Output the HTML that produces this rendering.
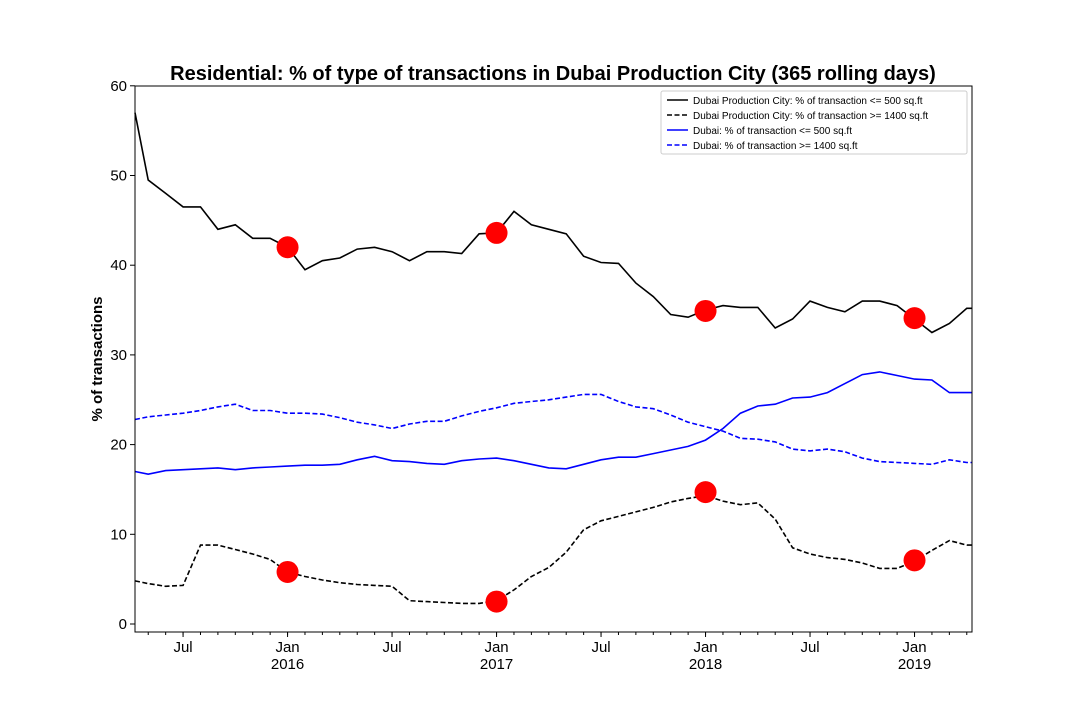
<!DOCTYPE html>
<html><head><meta charset="utf-8"><style>
body{margin:0;background:#fff;}
svg text{font-family:"Liberation Sans","DejaVu Sans",sans-serif;}
</style></head><body>
<svg id="chart" width="1080" height="720" xmlns="http://www.w3.org/2000/svg">
<rect width="1080" height="720" fill="#fff"/>
<text x="553" y="80" text-anchor="middle" font-size="20" font-weight="bold">Residential: % of type of transactions in Dubai Production City (365 rolling days)</text>
<text transform="translate(102,359) rotate(-90)" text-anchor="middle" font-size="15" font-weight="bold">% of transactions</text>
<g id="grid"></g>
<g id="series"></g>
<g id="markers"></g>
<rect x="135" y="86" width="837" height="546" fill="none" stroke="#000" stroke-width="1"/>
<g id="axes"></g>
<g>
<rect x="661" y="91" width="306" height="63" fill="#fff" stroke="#ccc" rx="2"/>
<line x1="667" y1="100" x2="688" y2="100" stroke="#000" stroke-width="1.5"/>
<text x="693" y="104" font-size="10">Dubai Production City: % of transaction &lt;= 500 sq.ft</text>
<line x1="667" y1="115" x2="688" y2="115" stroke="#000" stroke-width="1.5" stroke-dasharray="5,2.5"/>
<text x="693" y="119" font-size="10">Dubai Production City: % of transaction &gt;= 1400 sq.ft</text>
<line x1="667" y1="130" x2="688" y2="130" stroke="#00f" stroke-width="1.5"/>
<text x="693" y="134" font-size="10">Dubai: % of transaction &lt;= 500 sq.ft</text>
<line x1="667" y1="145" x2="688" y2="145" stroke="#00f" stroke-width="1.5" stroke-dasharray="5,2.5"/>
<text x="693" y="149" font-size="10">Dubai: % of transaction &gt;= 1400 sq.ft</text>
</g>
</svg>
<script>
// month index 0 = Apr 2015
const startMonth = 2015 + 3/12;
const dpcSmall = [57,49.5,48,46.5,46.5,44,44.5,43,43,42,39.5,40.5,40.8,41.8,42,41.5,40.5,41.5,41.5,41.3,43.5,43.6,46,44.5,44,43.5,41,40.3,40.2,38,36.5,34.5,34.2,35,35.5,35.3,35.3,33,34,36,35.3,34.8,36,36,35.5,34,32.5,33.5,35.2];
const dpcLarge = [4.8,4.5,4.2,4.3,8.8,8.8,8.3,7.8,7.2,5.8,5.3,4.9,4.6,4.4,4.3,4.2,2.6,2.5,2.4,2.3,2.3,2.6,3.8,5.3,6.3,8,10.5,11.5,12,12.5,13,13.6,14,14.3,13.7,13.3,13.5,11.7,8.5,7.8,7.4,7.2,6.8,6.2,6.2,7.0,8.2,9.3,8.8];
const dubaiSmall = [17,16.7,17.1,17.2,17.3,17.4,17.2,17.4,17.5,17.6,17.7,17.7,17.8,18.3,18.7,18.2,18.1,17.9,17.8,18.2,18.4,18.5,18.2,17.8,17.4,17.3,17.8,18.3,18.6,18.6,19,19.4,19.8,20.5,21.8,23.5,24.3,24.5,25.2,25.3,25.8,26.8,27.8,28.1,27.7,27.3,27.2,25.8,25.8];
const dubaiLarge = [22.8,23.1,23.3,23.5,23.8,24.2,24.5,23.8,23.8,23.5,23.5,23.4,23,22.5,22.2,21.8,22.3,22.6,22.6,23.2,23.7,24.1,24.6,24.8,25,25.3,25.6,25.6,24.8,24.2,24,23.3,22.5,22,21.5,20.7,20.6,20.3,19.5,19.3,19.5,19.2,18.5,18.1,18,17.9,17.8,18.3,18];
const markerYears = [2016,2017,2018,2019];
const markerSmall = [42,43.6,34.9,34.1];
const markerLarge = [5.8,2.5,14.7,7.1];
const yTicks = [0,10,20,30,40,50,60];
const xTickLabels = [[2015.5,"Jul",""],[2016,"Jan","2016"],[2016.5,"Jul",""],[2017,"Jan","2017"],[2017.5,"Jul",""],[2018,"Jan","2018"],[2018.5,"Jul",""],[2019,"Jan","2019"]];

const NS="http://www.w3.org/2000/svg";
const x0=135,x1=972,tStart=2015.27,tEnd=2019.275;
function xs(t){return x0+(t-tStart)/(tEnd-tStart)*(x1-x0);}
function ys(v){return 624-v*8.97;}
function mk(tag,attrs,parent){const e=document.createElementNS(NS,tag);for(const k in attrs)e.setAttribute(k,attrs[k]);document.getElementById(parent).appendChild(e);return e;}
function monthT(i){return i===0?tStart:startMonth+i/12;}

function drawSeries(vals,color,dash,name){
  const arr=vals.map((v,i)=>xs(Math.min(monthT(i),tEnd)).toFixed(1)+","+ys(v).toFixed(1));
  arr.push(xs(tEnd).toFixed(1)+","+ys(vals[vals.length-1]).toFixed(1));
  const p=mk("polyline",{points:arr.join(" "),fill:"none",stroke:color,"stroke-width":1.6},"series");
  if(dash)p.setAttribute("stroke-dasharray","5,2.5");
  
  
}
drawSeries(dubaiLarge,"#00f",true,"line-dubai-large");
drawSeries(dubaiSmall,"#00f",false,"line-dubai-small");
drawSeries(dpcLarge,"#000",true,"line-dpc-large");
drawSeries(dpcSmall,"#000",false,"line-dpc-small");

markerYears.forEach((yr,i)=>{
  const a=mk("circle",{cx:xs(yr),cy:ys(markerSmall[i]),r:11,fill:"#f00"},"markers");
  
  
  const b=mk("circle",{cx:xs(yr),cy:ys(markerLarge[i]),r:11,fill:"#f00"},"markers");
  
  
});

yTicks.forEach(v=>{
  const l=mk("line",{x1:130,x2:135,y1:ys(v),y2:ys(v),stroke:"#000"},"axes");
  
  
  const t=mk("text",{x:127,y:ys(v)+5,"text-anchor":"end","font-size":15},"axes");
  t.textContent=v;
  
  
});
for(let i=1;i<49;i++){
  const t=startMonth+i/12;
  if(t>tEnd)break;
  const l=mk("line",{x1:xs(t),x2:xs(t),y1:632,y2:635,stroke:"#000"},"axes");
  
  
}
xTickLabels.forEach(d=>{
  const x=xs(d[0]);
  const l=mk("line",{x1:x,x2:x,y1:632,y2:637,stroke:"#000"},"axes");
  
  
  const t=mk("text",{x:x,y:652,"text-anchor":"middle","font-size":15},"axes");
  t.textContent=d[1];
  
  
  if(d[2]){
    const t2=mk("text",{x:x,y:669,"text-anchor":"middle","font-size":15},"axes");
    t2.textContent=d[2];
    
    
  }
});
</script>
</body></html>
